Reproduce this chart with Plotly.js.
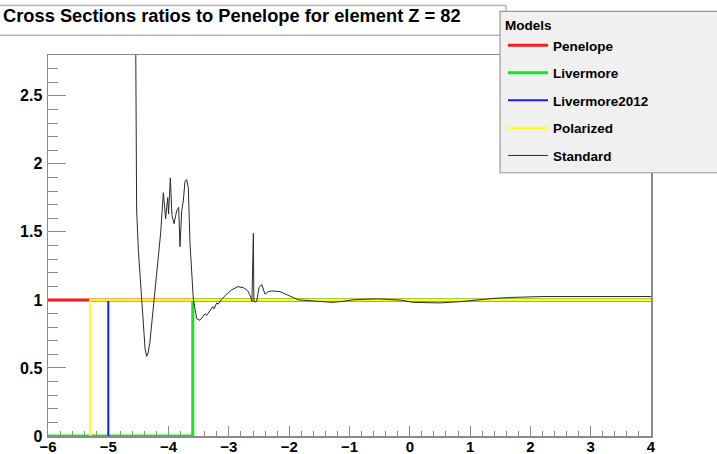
<!DOCTYPE html>
<html>
<head>
<meta charset="utf-8">
<script src="https://cdn.plot.ly/plotly-3.0.1.min.js"></script>
<style>
  html, body { margin: 0; padding: 0; background: #ffffff; }
  #chart { width: 717px; height: 454px; }
</style>
</head>
<body>
<div id="chart"></div>
<script>
// log10(E/MeV) on x, cross-section ratio to Penelope on y
const modelNames = ['Penelope', 'Livermore', 'Livermore2012', 'Polarized', 'Standard'];
const modelColors = ['#ff1a1a', '#19e619', '#1a1aff', '#ffff1a', '#2a2a2a'];

const penelopeE = [-6, 4];
const penelopeR = [1, 1];

const livermoreE = [-6, -3.6, -3.6, 4];
const livermoreR = [0, 0, 1, 1];

const livermore2012E = [-5.0, -5.0, 4];
const livermore2012R = [0, 1, 1];

const polarizedE = [-5.3, -5.3, 4];
const polarizedR = [0, 1, 1];

const standardE = [
  -4.549, -4.546, -4.541, -4.530, -4.502, -4.458, -4.419, -4.39, -4.363, -4.34,
  -4.31, -4.25, -4.19, -4.13, -4.087, -4.049, -4.015, -4.000, -3.971, -3.944,
  -3.910, -3.866, -3.833, -3.811, -3.783, -3.756, -3.728, -3.700, -3.673, -3.645,
  -3.590, -3.534, -3.479, -3.396, -3.368, -3.313, -3.269, -3.247, -3.203, -3.176,
  -3.120, -3.037, -2.95, -2.85, -2.76, -2.69, -2.645, -2.618, -2.598, -2.594,
  -2.586, -2.565, -2.54, -2.50, -2.456, -2.401, -2.35, -2.29, -2.153, -1.987,
  -1.849, -1.655, -1.489, -1.27, -1.103, -0.937, -0.549, -0.162, 0.058, 0.501,
  0.832, 1.11, 1.385, 1.66, 2.21, 4.0
];
const standardR = [
  3.2, 2.8, 2.02, 1.66, 1.37, 1.08, 0.765, 0.64, 0.585, 0.61,
  0.69, 0.95, 1.22, 1.5, 1.788, 1.596, 1.752, 1.632, 1.897, 1.620,
  1.560, 1.656, 1.680, 1.391, 1.656, 1.728, 1.872, 1.884, 1.824, 1.415,
  1.006, 0.862, 0.85, 0.898, 0.886, 0.922, 0.951, 0.934, 0.977, 0.97,
  1.006, 1.042, 1.075, 1.098, 1.09, 1.07, 1.03, 0.99, 1.49, 1.49,
  0.99, 0.985, 0.99, 1.09, 1.114, 1.042, 1.06, 1.066, 1.061, 1.03,
  1.001, 0.994, 0.987, 0.982, 0.99, 1.001, 1.008, 0.999, 0.982, 0.978,
  0.987, 1.001, 1.011, 1.018, 1.025, 1.025
];

const xs = [penelopeE, livermoreE, livermore2012E, polarizedE, standardE];
const ys = [penelopeR, livermoreR, livermore2012R, polarizedR, standardR];
const widths = [3, 3, 2, 2.2, 1];

const traces = modelNames.map((name, i) => ({
  type: 'scatter',
  mode: 'lines',
  name: name,
  legendgroup: name,
  x: xs[i],
  y: ys[i],
  line: { color: modelColors[i], width: widths[i] },
  hoverinfo: 'skip'
}));

// plot frame in pixels: x 48..651, y 51..436
const W = 717, H = 454;
const L = 48, R = 651, T = 51, B = 436;
const px = v => (v - L) / (R - L);
const py = v => (B - v) / (B - T);

const fontFam = '"Liberation Sans", Arial, Helvetica, sans-serif';
const frameColor = '#8a8a8a';

const layout = {
  width: W,
  height: H,
  margin: { l: L, r: W - R, t: T, b: H - B, pad: 0 },
  paper_bgcolor: '#ffffff',
  plot_bgcolor: '#ffffff',
  showlegend: true,
  font: { family: fontFam, color: '#000000' },
  title: {
    text: 'Cross Sections ratios to Penelope for element Z = 82',
    font: { family: fontFam, size: 18.3, weight: 'bold', color: '#000000' },
    xref: 'container', yref: 'container',
    x: 3 / W, xanchor: 'left',
    y: 1 - 16 / H, yanchor: 'middle'
  },
  xaxis: {
    range: [-6, 4],
    dtick: 1,
    tick0: 0,
    ticks: 'inside',
    ticklen: 10,
    tickwidth: 1,
    tickcolor: frameColor,
    minor: { dtick: 0.2, ticks: 'inside', ticklen: 5, tickwidth: 1, tickcolor: frameColor, showgrid: false },
    showgrid: false,
    zeroline: false,
    showline: true,
    linecolor: frameColor,
    linewidth: 1.5,
    mirror: true,
    layer: 'below traces',
    ticklabelstandoff: -4,
    tickfont: { family: fontFam, size: 15, weight: 'bold', color: '#000000' },
    fixedrange: true
  },
  yaxis: {
    range: [0, 2.8],
    dtick: 0.5,
    tick0: 0,
    ticks: 'inside',
    ticklen: 18,
    tickwidth: 1,
    tickcolor: frameColor,
    minor: { dtick: 0.1, ticks: 'inside', ticklen: 10, tickwidth: 1, tickcolor: frameColor, showgrid: false },
    showgrid: false,
    zeroline: false,
    showline: true,
    linecolor: frameColor,
    linewidth: 1.5,
    mirror: true,
    layer: 'below traces',
    ticklabelstandoff: 1,
    tickfont: { family: fontFam, size: 16, weight: 'bold', color: '#000000' },
    fixedrange: true
  },
  legend: {
    title: { text: 'Models', font: { family: fontFam, size: 13.5, weight: 'bold', color: '#000000' } },
    font: { family: fontFam, size: 13.5, weight: 'bold', color: '#000000' },
    x: px(503), xanchor: 'left',
    y: py(8), yanchor: 'top',
    bgcolor: 'rgba(0,0,0,0)',
    borderwidth: 0,
    tracegroupgap: 7,
    itemwidth: 40,
    traceorder: 'grouped'
  },
  shapes: [
    // title box
    {
      type: 'rect', xref: 'paper', yref: 'paper', layer: 'above',
      x0: px(-3), x1: px(506), y0: py(31), y1: py(1),
      fillcolor: '#ffffff', line: { color: '#b4b4b4', width: 1.5 }
    },
    // legend box
    {
      type: 'rect', xref: 'paper', yref: 'paper', layer: 'above',
      x0: px(500), x1: px(720), y0: py(170), y1: py(7),
      fillcolor: '#f0f0f0', line: { color: '#9a9a9a', width: 1.2 }
    }
  ]
};

Plotly.newPlot('chart', traces, layout, { staticPlot: true, displayModeBar: false });
</script>
</body>
</html>
